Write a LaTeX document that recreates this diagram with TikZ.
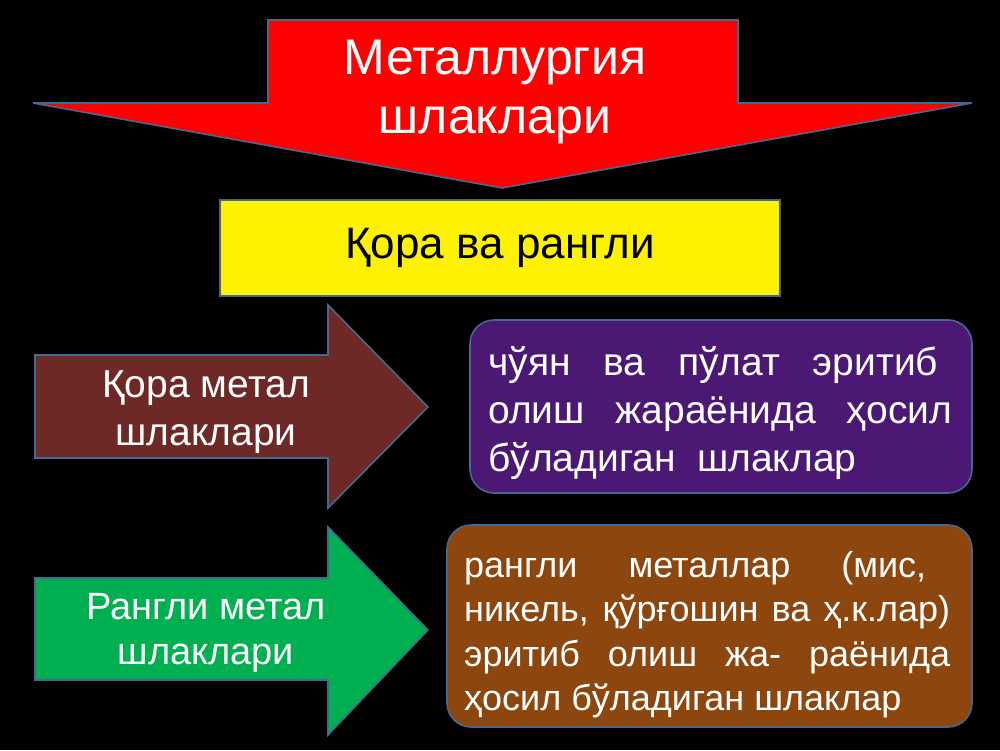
\documentclass[tikz,border=0pt]{standalone}
\usepackage{fontspec}
\setmainfont{Liberation Sans}
\definecolor{bordc}{RGB}{70,105,145}
\definecolor{arrowbrown}{RGB}{110,40,38}
\definecolor{boxpurple}{RGB}{75,25,115}
\definecolor{boxbrown}{RGB}{140,70,14}
\definecolor{arrowgreen}{RGB}{0,176,80}
\newcommand{\jl}[1]{\makebox[\linewidth][s]{#1}}
\newcommand{\jw}[2]{\makebox[#1][s]{#2}}
\tikzset{
  shapeline/.style={draw=bordc, line width=1.6pt, line join=miter},
  label/.style={text=white, inner sep=0pt, align=center},
}
\begin{document}
\begin{tikzpicture}[x=1pt,y=-1pt]
\fill[black] (0,0) rectangle (1000,750);
\useasboundingbox (0,0) rectangle (1000,750);
% red down arrow
\draw[shapeline, fill=red] (268,20) -- (738,20) -- (738,103) -- (972,103) -- (502,188) -- (33,103) -- (268,103) -- cycle;
\node[label, font=\fontsize{50}{59}\selectfont] (title) at (495,92) {Металлургия\\шлаклари};
% yellow box
\node[draw=bordc, line width=1.2pt, fill=yellow, minimum width=560pt, minimum height=96pt, inner sep=0pt,
      font=\fontsize{44}{50}\selectfont] (kora) at (500,248) {Қора ва рангли};
% brown arrow
\draw[shapeline, fill=arrowbrown] (35,355) -- (328,355) -- (328,305) -- (428,407) -- (328,508) -- (328,458) -- (35,458) -- cycle;
\node[label, font=\fontsize{39}{48}\selectfont] (qm) at (206,412) {Қора метал\\шлаклари};
% purple box
\draw[shapeline, fill=boxpurple, rounded corners=24pt] (470,320) rectangle (972,493);
\node[text=white, inner sep=0pt, anchor=base west, font=\fontsize{39}{48}\selectfont] (qmt) at (488,375)
 {\parbox[t]{464pt}{\jw{450pt}{чўян ва пўлат эритиб}\\\jl{олиш жараёнида ҳосил}\\бўладиган\ \ шлаклар}};
% green arrow
\draw[shapeline, fill=arrowgreen] (35,578) -- (328,578) -- (328,527) -- (428,630) -- (328,735) -- (328,680) -- (35,680) -- cycle;
\node[label, font=\fontsize{38}{45}\selectfont] (rm) at (206,633) {Рангли метал\\шлаклари};
% brown box
\draw[shapeline, fill=boxbrown, rounded corners=24pt] (447,525) rectangle (972,727);
\node[text=white, inner sep=0pt, anchor=base west, font=\fontsize{36}{44.5}\selectfont] (rmt) at (464,577)
 {\parbox[t]{486pt}{\jw{462pt}{рангли металлар (мис,}\\\jl{никель, қўрғошин ва ҳ.к.лар)}\\\jl{эритиб олиш жа- раёнида}\\ҳосил бўладиган шлаклар}};
\end{tikzpicture}
\end{document}
